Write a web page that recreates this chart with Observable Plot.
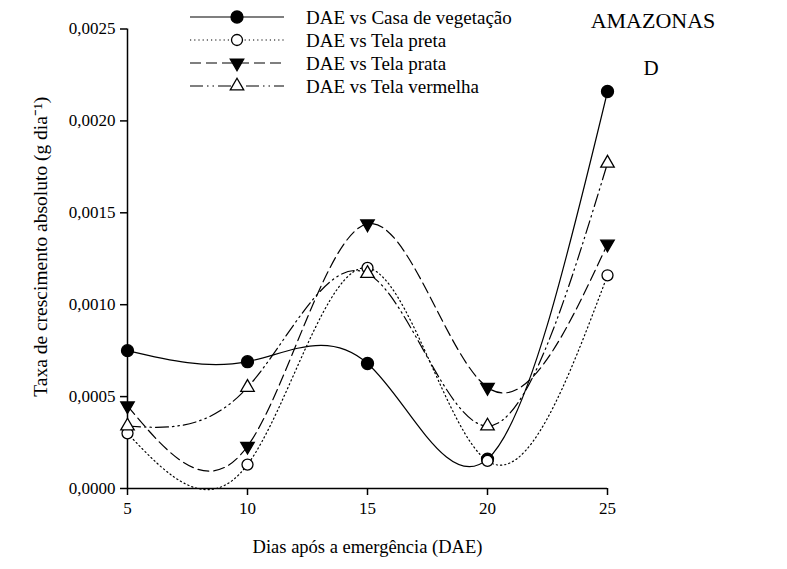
<!DOCTYPE html>
<html>
<head>
<meta charset="utf-8">
<script src="https://cdn.jsdelivr.net/npm/d3@7"></script>
<script src="https://cdn.jsdelivr.net/npm/@observablehq/plot@0.6"></script>
<style>
  body { margin: 0; background: #fff; }
  #chart { position: relative; width: 787px; height: 569px; }
  #chart svg text { font-family: "Liberation Serif", "Times New Roman", serif !important; fill: #000; }
</style>
</head>
<body>
<div id="chart"></div>
<script>
// Dias após a emergência
const days = [5, 10, 15, 20, 25];

// Taxa de crescimento absoluto (g dia-1) por comparação
const casaVegetacao = [0.00075, 0.00069, 0.00068, 0.00016, 0.00216];
const telaPreta     = [0.00030, 0.00013, 0.00120, 0.00015, 0.00116];
const telaPrata     = [0.00045, 0.00023, 0.00144, 0.00055, 0.00133];
const telaVermelha  = [0.00034, 0.00055, 0.00117, 0.00034, 0.00177];

const seriesNames = [
  "DAE vs Casa de vegetação",
  "DAE vs Tela preta",
  "DAE vs Tela prata",
  "DAE vs Tela vermelha"
];

const yTicks = [0, 0.0005, 0.0010, 0.0015, 0.0020, 0.0025];
const xLabel = "Dias após a emergência (DAE)";
const yLabel = "Taxa de crescimento absoluto (g dia⁻¹)";
const stateLabel = "AMAZONAS";
const panelLabel = "D";

// Line and marker style per series
const styles = [
  {dash: null,                 symbol: "circle",   fill: "black", rotate: 0,   r: 6},
  {dash: "1.2,3",              symbol: "circle",   fill: "white", rotate: 0,   r: 5.5},
  {dash: "11,5",               symbol: "triangle", fill: "black", rotate: 180, r: 5},
  {dash: "13,4,1.5,4,1.5,4",   symbol: "triangle", fill: "white", rotate: 0,   r: 5}
];

const values = [casaVegetacao, telaPreta, telaPrata, telaVermelha];
const series = seriesNames.map((name, i) =>
  days.map((d, j) => ({dae: d, taxa: values[i][j], name}))
);

const fmt = v => d3.format(".4f")(v).replace(".", ",");
const font = "'Liberation Serif', 'Times New Roman', serif";

const marks = [];
series.forEach((rows, i) => {
  const s = styles[i];
  marks.push(Plot.line(rows, {
    x: "dae", y: "taxa", curve: "natural",
    stroke: "black", strokeWidth: 1.2,
    strokeDasharray: s.dash ?? undefined
  }));
});
series.forEach((rows, i) => {
  const s = styles[i];
  marks.push(Plot.dot(rows, {
    x: "dae", y: "taxa", symbol: s.symbol, r: s.r, rotate: s.rotate,
    fill: s.fill, stroke: "black", strokeWidth: 1.3
  }));
});

const chart = Plot.plot({
  width: 787,
  height: 569,
  marginLeft: 127,
  marginRight: 180,
  marginTop: 28.5,
  marginBottom: 81,
  style: `font-family: ${font}; font-size: 17px; color: black; background: white;`,
  x: {domain: [5, 25]},
  y: {domain: [0, 0.0025]},
  marks: [
    Plot.ruleY([0], {stroke: "black", strokeWidth: 1.5}),
    Plot.ruleX([5], {stroke: "black", strokeWidth: 1.5}),
    Plot.axisX({ticks: days, tickSize: 7, tickPadding: 6, label: null, fontSize: 17, strokeWidth: 1.5}),
    Plot.axisY({ticks: yTicks, tickFormat: fmt, tickSize: 7, tickPadding: 5, label: null, fontSize: 17, strokeWidth: 1.5}),
    Plot.text([xLabel], {frameAnchor: "bottom", dy: 64, fontSize: 18.5, text: d => d}),
    Plot.text([yLabel], {frameAnchor: "left", textAnchor: "middle", rotate: -90, dx: -87, dy: -12, fontSize: 19.5, text: d => d}),
    ...marks
  ]
});

// Legend and panel labels
const svg = d3.select(chart);
const lg = svg.append("g").attr("font-size", 19).attr("text-anchor", "start");
seriesNames.forEach((name, i) => {
  const s = styles[i];
  const y = 17 + i * 23;
  lg.append("line")
    .attr("x1", 190).attr("x2", 284).attr("y1", y).attr("y2", y)
    .attr("stroke", "black").attr("stroke-width", 1.2)
    .attr("stroke-dasharray", s.dash);
  const sym = s.symbol === "circle" ? d3.symbolCircle : d3.symbolTriangle;
  lg.append("path")
    .attr("d", d3.symbol(sym, Math.PI * s.r * s.r)())
    .attr("transform", `translate(237,${y}) rotate(${s.rotate})`)
    .attr("fill", s.fill).attr("stroke", "black").attr("stroke-width", 1.3);
  lg.append("text")
    .attr("x", 306).attr("y", y).attr("dy", "0.35em")
    .attr("text-anchor", "start")
    .text(name);
});
svg.append("text")
  .attr("x", 653).attr("y", 20).attr("dy", "0.35em")
  .attr("text-anchor", "middle").attr("font-size", 22)
  .text(stateLabel);
svg.append("text")
  .attr("x", 651).attr("y", 68).attr("dy", "0.35em")
  .attr("text-anchor", "middle").attr("font-size", 21)
  .text(panelLabel);

document.getElementById("chart").appendChild(chart);
</script>
</body>
</html>
